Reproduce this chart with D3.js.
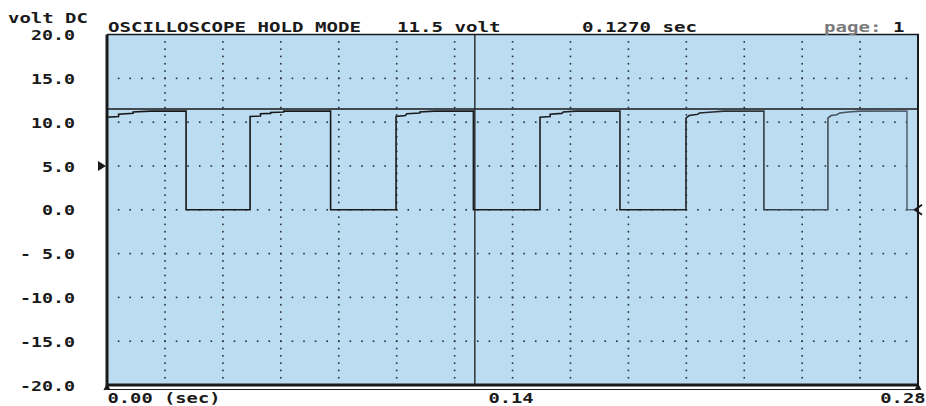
<!DOCTYPE html>
<html>
<head>
<meta charset="utf-8">
<script src="https://cdn.jsdelivr.net/npm/d3@7"></script>
<style>
  html, body { margin: 0; padding: 0; background: #ffffff; }
  svg { display: block; }
  text { font-family: "DejaVu Sans Mono", "Liberation Mono", monospace; font-weight: bold; fill: #1a1a1a; }
</style>
</head>
<body>
<svg id="chart" width="926" height="406"></svg>
<script>
// ---------------- data ----------------
const headerTitle = "OSCILLOSCOPE HOLD MODE";
const pageLabel = "page:";
const pageNumber = "1";
const yAxisTitle = "volt DC";

const cursorVolt = 11.5;
const cursorSec = 0.1270;
const triggerVolt = 5.0;

const yTickValues = [20, 15, 10, 5, 0, -5, -10, -15, -20];
const yTickLabels = ["20.0", "15.0", "10.0", "5.0", "0.0", "- 5.0", "-10.0", "-15.0", "-20.0"];
const xTickValues = [0, 0.14, 0.28];
const xTickLabels = ["0.00 (sec)", "0.14", "0.28"];

// trace (seconds, volts DC)
const traceSec = [
  0.0000, 0.0000, 0.0040, 0.0040, 0.0090, 0.0090, 0.0150, 0.0273, 0.0273,
  0.0494, 0.0494, 0.0530, 0.0530, 0.0565, 0.0565, 0.0610, 0.0610, 0.0772, 0.0772,
  0.0998, 0.0998, 0.1030, 0.1035, 0.1080, 0.1080, 0.1130, 0.1265, 0.1265,
  0.1495, 0.1495, 0.1530, 0.1530, 0.1570, 0.1575, 0.1620, 0.1771, 0.1771,
  0.1999, 0.1999, 0.2010, 0.2040, 0.2045, 0.2090, 0.2130, 0.2268, 0.2268,
  0.2489, 0.2489, 0.2500, 0.2520, 0.2530, 0.2560, 0.2600, 0.2762, 0.2762, 0.2800
];
const traceVolt = [
  0.0, 10.55, 10.65, 10.9, 11.0, 11.15, 11.25, 11.25, 0.0,
  0.0, 10.65, 10.7, 10.95, 11.0, 11.1, 11.15, 11.25, 11.25, 0.0,
  0.0, 10.65, 10.75, 10.95, 11.05, 11.15, 11.25, 11.25, 0.0,
  0.0, 10.55, 10.65, 10.9, 11.0, 11.15, 11.25, 11.25, 0.0,
  0.0, 10.45, 10.75, 10.9, 11.05, 11.15, 11.25, 11.25, 0.0,
  0.0, 10.45, 10.75, 10.85, 11.05, 11.15, 11.25, 11.25, 0.0, 0.0
];

// ---------------- layout ----------------
const plot = { left: 107, right: 918, top: 34.5, bottom: 385 };
const charW = 11.5;
const colors = { bg: "#bcdcf2", ink: "#1a1a1a", dot: "#2a2f35", faded: "#7a7a7a" };

const svg = d3.select("#chart");
const x = d3.scaleLinear().domain([0, 0.28]).range([plot.left, plot.right]);
const y = d3.scaleLinear().domain([-20, 20]).range([plot.bottom, plot.top]);

// background
svg.append("rect")
  .attr("x", plot.left).attr("y", plot.top)
  .attr("width", plot.right - plot.left).attr("height", plot.bottom - plot.top)
  .attr("fill", colors.bg);

// dotted grid
const gridG = svg.append("g");
const vGrid = d3.range(0.02, 0.2799, 0.02);
const hGrid = [15, 10, 5, 0, -5, -10, -15];
const hDotT = d3.range(0.004, 0.2799, 0.004);
const vDotV = d3.range(-20 + 5 / 6, 19.9, 5 / 6);
hGrid.forEach(v => {
  gridG.selectAll(null).data(hDotT).enter().append("rect")
    .attr("x", d => x(d) - 0.75).attr("y", y(v) - 0.75)
    .attr("width", 1.6).attr("height", 1.6).attr("fill", colors.dot);
});
vGrid.forEach(t => {
  gridG.selectAll(null).data(vDotV).enter().append("rect")
    .attr("x", x(t) - 0.75).attr("y", d => y(d) - 0.75)
    .attr("width", 1.6).attr("height", 1.6).attr("fill", colors.dot);
});

// cursors
svg.append("line")
  .attr("x1", plot.left).attr("x2", plot.right)
  .attr("y1", y(cursorVolt)).attr("y2", y(cursorVolt))
  .attr("stroke", colors.ink).attr("stroke-width", 1.6);
svg.append("line")
  .attr("x1", x(cursorSec)).attr("x2", x(cursorSec))
  .attr("y1", plot.top).attr("y2", plot.bottom)
  .attr("stroke", colors.ink).attr("stroke-width", 1.3);

// trace
const defs = svg.append("defs");
const grad = defs.append("linearGradient").attr("id", "fade")
  .attr("gradientUnits", "userSpaceOnUse")
  .attr("x1", plot.left).attr("x2", plot.right).attr("y1", 0).attr("y2", 0);
grad.append("stop").attr("offset", "0%").attr("stop-color", "#151515");
grad.append("stop").attr("offset", "70%").attr("stop-color", "#1c1f22");
grad.append("stop").attr("offset", "100%").attr("stop-color", "#5a6b78");

const tracePts = traceSec.map((t, i) => [t, traceVolt[i]]);
svg.append("path")
  .datum(tracePts)
  .attr("d", d3.line().x(d => x(d[0])).y(d => y(d[1])))
  .attr("fill", "none").attr("stroke", "url(#fade)").attr("stroke-width", 1.6)
  .attr("stroke-linejoin", "miter");

// frame
svg.append("line").attr("x1", plot.left).attr("x2", plot.right + 1)
  .attr("y1", plot.top).attr("y2", plot.top).attr("stroke", colors.ink).attr("stroke-width", 1.6);
svg.append("line").attr("x1", plot.right).attr("x2", plot.right)
  .attr("y1", plot.top).attr("y2", plot.bottom).attr("stroke", colors.ink).attr("stroke-width", 2);
svg.append("line").attr("x1", plot.left).attr("x2", plot.left)
  .attr("y1", plot.top).attr("y2", plot.bottom + 1.5).attr("stroke", colors.ink).attr("stroke-width", 3);
svg.append("line").attr("x1", plot.left).attr("x2", plot.right + 1)
  .attr("y1", plot.bottom).attr("y2", plot.bottom).attr("stroke", colors.ink).attr("stroke-width", 3);
svg.append("line").attr("x1", plot.left).attr("x2", plot.right + 1)
  .attr("y1", plot.bottom + 4.5).attr("y2", plot.bottom + 4.5).attr("stroke", colors.ink).attr("stroke-width", 1.2);

// markers
const tri = (pts) => "M" + pts.map(p => p.join(",")).join("L") + "Z";
svg.append("path").attr("d", tri([[plot.left - 9, y(triggerVolt) - 5], [plot.left - 1, y(triggerVolt)], [plot.left - 9, y(triggerVolt) + 5]]))
  .attr("fill", colors.ink);
svg.append("path").attr("d", tri([[plot.left - 3.5, plot.bottom + 5], [plot.left, plot.bottom - 2], [plot.left + 3.5, plot.bottom + 5]]))
  .attr("fill", colors.ink);
svg.append("path").attr("d", tri([[plot.right - 3.5, plot.bottom + 5], [plot.right, plot.bottom - 2], [plot.right + 3.5, plot.bottom + 5]]))
  .attr("fill", colors.ink);
svg.append("path").attr("d", "M" + (plot.right + 4) + "," + (y(0) - 5) + "L" + (plot.right - 3) + "," + y(0) + "L" + (plot.right + 4) + "," + (y(0) + 5))
  .attr("fill", "none").attr("stroke", colors.ink).attr("stroke-width", 2);

// y axis
const yAxisG = svg.append("g").attr("transform", `translate(${plot.left},0)`)
  .call(d3.axisLeft(y).tickValues(yTickValues).tickSize(0).tickPadding(32)
    .tickFormat((d, i) => yTickLabels[i]));
yAxisG.select(".domain").remove();
yAxisG.selectAll("text")
  .attr("font-family", null).attr("font-size", null)
  .style("font-size", "14.5px")
  .attr("dy", "0.36em")
  .attr("textLength", (d, i) => yTickLabels[i].length * 11)
  .attr("lengthAdjust", "spacingAndGlyphs");

svg.append("text").attr("x", 8).attr("y", 23).style("font-size", "14px")
  .attr("textLength", yAxisTitle.length * 11.4).attr("lengthAdjust", "spacingAndGlyphs")
  .text(yAxisTitle);

// x axis
const xAxisG = svg.append("g").attr("transform", `translate(0,${plot.bottom})`)
  .call(d3.axisBottom(x).tickValues(xTickValues).tickSize(0).tickPadding(9)
    .tickFormat((d, i) => xTickLabels[i]));
xAxisG.select(".domain").remove();
xAxisG.selectAll("text")
  .attr("font-family", null).attr("font-size", null)
  .style("font-size", "14px")
  .attr("y", 18).attr("dy", null)
  .attr("text-anchor", (d, i) => i === 0 ? "start" : (i === xTickLabels.length - 1 ? "end" : "middle"))
  .attr("x", (d, i) => i === 0 ? 0 : (i === xTickLabels.length - 1 ? 7 : -2))
  .attr("textLength", (d, i) => xTickLabels[i].length * 11.3)
  .attr("lengthAdjust", "spacingAndGlyphs");

// header
const header = [
  { s: headerTitle, x: 108, fill: colors.ink },
  { s: d3.format(".1f")(cursorVolt) + " volt", x: 397, fill: colors.ink },
  { s: d3.format(".4f")(cursorSec) + " sec", x: 582, fill: colors.ink },
  { s: pageLabel, x: 824, fill: colors.faded },
  { s: pageNumber, x: 824 + 6 * charW, fill: colors.ink }
];
svg.selectAll(".hdr").data(header).enter().append("text")
  .attr("class", "hdr")
  .attr("x", d => d.x).attr("y", 31.5)
  .style("font-size", "13.5px")
  .attr("fill", d => d.fill).style("fill", d => d.fill)
  .attr("textLength", d => d.s.length * charW)
  .attr("lengthAdjust", "spacingAndGlyphs")
  .text(d => d.s);
</script>
</body>
</html>
